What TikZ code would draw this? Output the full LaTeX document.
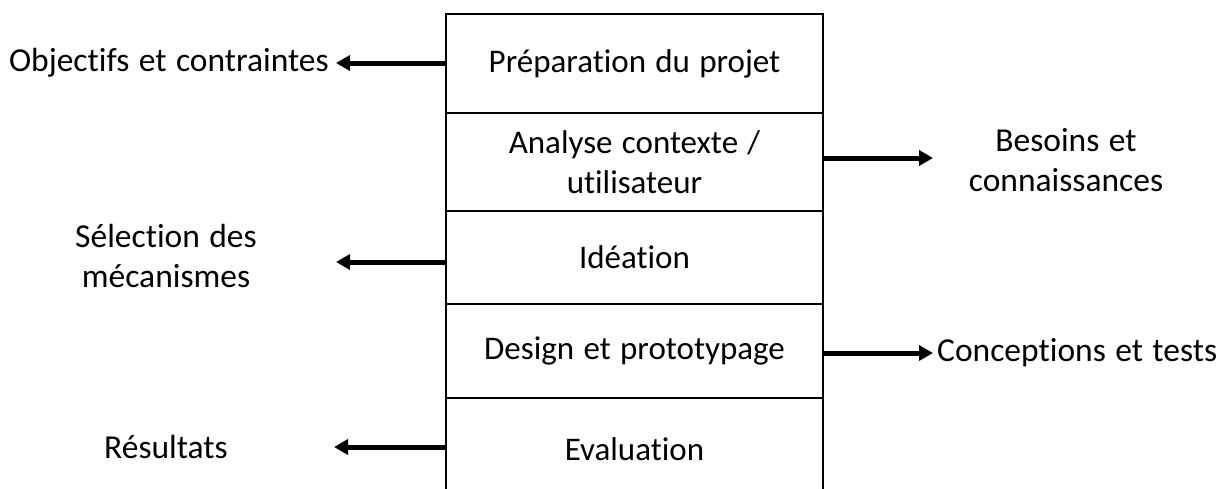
\documentclass[tikz,border=0pt]{standalone}
\usepackage{fontspec}
\setmainfont[Ligatures=NoCommon,WordSpace=1.25]{Carlito}
\usetikzlibrary{arrows.meta}
\begin{document}
\begin{tikzpicture}[x=1pt,y=-1pt,
  cell/.style={draw=black,line width=2pt,minimum width=377pt,anchor=north west,inner sep=0pt,align=center,font=\fontsize{33}{40}\selectfont},
  lbl/.style={align=center,font=\fontsize{33.5}{40}\selectfont,inner sep=0pt},
  outarrow/.style={line width=5pt,-{Triangle[length=14pt,width=15pt]}}]
\useasboundingbox (0,0) rectangle (1231,488);
\node[cell,minimum height=99pt] (c1) at (445,13) {Préparation du projet};
\node[cell,minimum height=98pt] (c2) at (445,112) {Analyse contexte /\\utilisateur};
\node[cell,minimum height=93pt] (c3) at (445,210) {Idéation};
\node[cell,minimum height=94pt] (c4) at (445,303) {Design et prototypage};
\node[cell,minimum height=102pt] (c5) at (445,397) {Evaluation};
\node[lbl,anchor=east] (o1) at (329,63) {Objectifs et contraintes};
\node[lbl] (o2) at (1066,160) {Besoins et\\connaissances};
\node[lbl] (o3) at (166,256) {Sélection des\\mécanismes};
\node[lbl,anchor=west] (o4) at (937,353) {Conceptions et tests};
\node[lbl] (o5) at (166,447) {Résultats};
\coordinate (t1) at (336,63);
\coordinate (t2) at (933,158);
\coordinate (t3) at (336,262);
\coordinate (t4) at (933,353);
\coordinate (t5) at (334,447);
\draw[outarrow] (c1.west |- t1) -- (t1);
\draw[outarrow] (c2.east |- t2) -- (t2);
\draw[outarrow] (c3.west |- t3) -- (t3);
\draw[outarrow] (c4.east |- t4) -- (t4);
\draw[outarrow] (c5.west |- t5) -- (t5);
\end{tikzpicture}
\end{document}
